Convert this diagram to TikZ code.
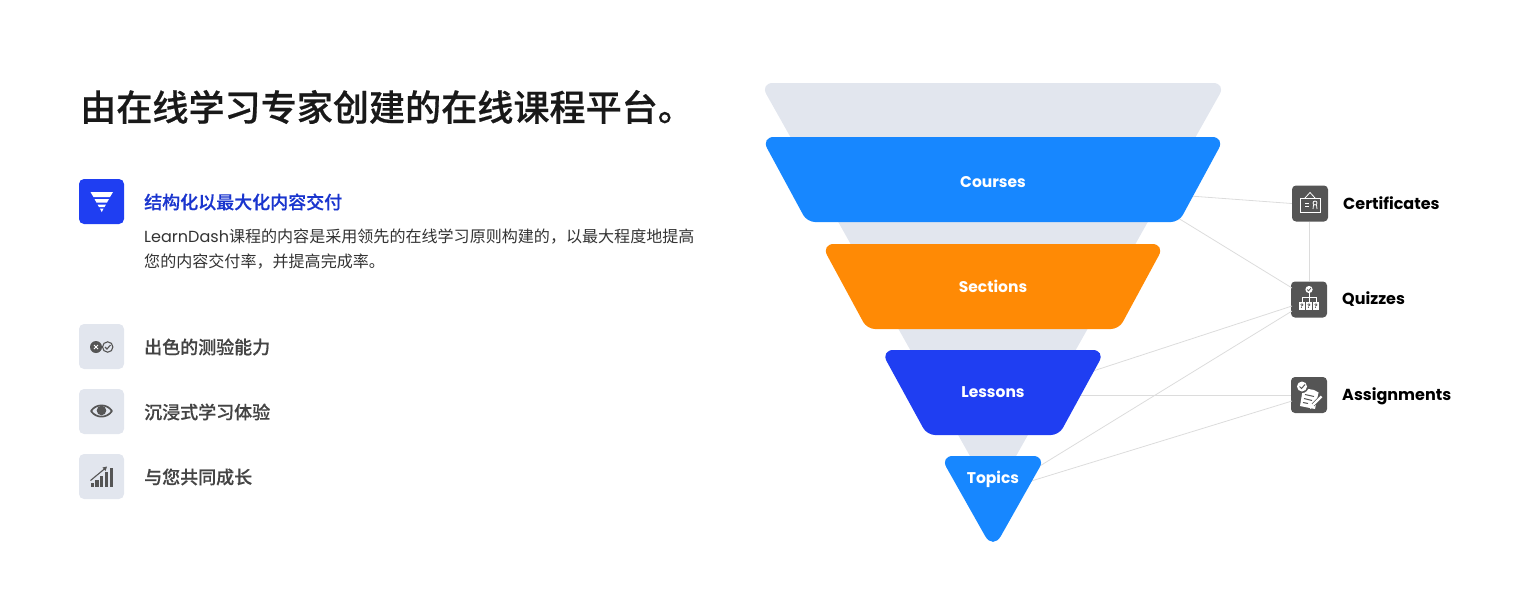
\documentclass[tikz,border=0pt]{standalone}
\usepackage{fontspec}
\setmainfont{Poppins}
\newfontfamily\cjk{Noto Sans CJK SC}
\newfontfamily\cjkmed[FakeBold=0.3]{Noto Sans CJK SC Medium}
\newfontfamily\cjktitle[FakeBold=0.5]{Noto Sans CJK SC Medium}
\newfontfamily\lat{Poppins}
\definecolor{gfun}{HTML}{E2E6EE}
\definecolor{skyb}{HTML}{1787FF}
\definecolor{orng}{HTML}{FF8A05}
\definecolor{royb}{HTML}{1F3EF2}
\definecolor{dark}{HTML}{555555}
\definecolor{ink}{HTML}{444444}
\definecolor{conn}{HTML}{DCDCDC}
\tikzset{
  funlabel/.style={text=white,font=\lat\fontsize{15.5}{15}\selectfont\bfseries,inner sep=0},
  sidelabel/.style={text=black,font=\lat\fontsize{16}{16}\selectfont\bfseries,anchor=west,inner sep=0},
  itemlabel/.style={text=ink,font=\cjkmed\fontsize{18}{18}\selectfont,anchor=west,inner sep=0},
  linkline/.style={draw=conn,line width=0.8pt},
  iconbox/.style={fill=dark,rounded corners=4pt,draw=none,minimum width=36pt,minimum height=36pt,inner sep=0},
  leftbox/.style={fill=gfun,rounded corners=5pt,draw=none,minimum width=45pt,minimum height=45pt,inner sep=0},
  wline/.style={draw=white,line width=0.8pt},
}
\begin{document}
\begin{tikzpicture}[x=1pt,y=-1pt]
\useasboundingbox (0,0) rectangle (1528,614);
% grey funnel
\fill[gfun] (993,83) [rounded corners=13pt] -- (760,83) -- (993,497) -- (1226,83) [sharp corners] -- cycle;
% connector ends on the funnel
\coordinate (cA) at (1190,196);
\coordinate (cB) at (1178,218);
\coordinate (lA) at (1090,372);
\coordinate (lB) at (1075,395);
\coordinate (tA) at (1030,472);
\coordinate (tB) at (1028,482);
% icon boxes
\node[iconbox] (cert) at (1310,203.5) {};
\node[iconbox] (quiz) at (1309,299.5) {};
\node[iconbox] (assign) at (1309,395) {};
\draw[linkline] (cA) -- (cert.west);
\draw[linkline] (cB) -- (1292,288);
\draw[linkline] (quiz.north) -- (quiz.north |- cert.south);
\draw[linkline] (lA) -- (1292,306);
\draw[linkline] (lB) -- (assign.west);
\draw[linkline] (tA) -- (1292,311);
\draw[linkline] (tB) -- (1292,401);
% funnel layers
\fill[skyb] (993,137) [rounded corners=13pt] -- (761,137) [rounded corners=8pt] -- (807,222) -- (1179,222) [rounded corners=13pt] -- (1225,137) [sharp corners] -- cycle;
\fill[orng] (993,244) [rounded corners=13pt] -- (821,244) [rounded corners=8pt] -- (867,329) -- (1119,329) [rounded corners=13pt] -- (1165,244) [sharp corners] -- cycle;
\fill[royb] (993,350) [rounded corners=13pt] -- (880.5,350) [rounded corners=8pt] -- (927,435) -- (1059,435) [rounded corners=13pt] -- (1105.5,350) [sharp corners] -- cycle;
\fill[skyb] (993,456) [rounded corners=13pt] -- (940,456) [rounded corners=16pt] -- (993,550) [rounded corners=13pt] -- (1046,456) [sharp corners] -- cycle;
\node[funlabel] (courses) at (993,182) {Courses};
\node[funlabel] (sections) at (993,286.4) {Sections};
\node[funlabel] (lessons) at (993,392) {Lessons};
\node[funlabel] (topics) at (993,479.5) {Topics};
% side labels
\node[sidelabel] (certL) at (1343,203) {Certificates};
\node[sidelabel] (quizL) at (1342,299.5) {Quizzes};
\node[sidelabel] (assignL) at (1342,396) {Assignments};
% left text
\node[anchor=west,inner sep=0,text=black!90,font=\cjktitle\fontsize{36.1}{37}\selectfont] (title) at (80,107) {由在线学习专家创建的在线课程平台。};
\node[anchor=west,inner sep=0,text=royb!85!black,font=\cjkmed\fontsize{18}{18}\selectfont] (sub) at (144,202) {结构化以最大化内容交付};
\node[anchor=west,inner sep=0,text=black!80,font=\cjk\fontsize{16.05}{16}\selectfont] (b1) at (144,237) {{\lat LearnDash}课程的内容是采用领先的在线学习原则构建的，以最大程度地提高};
\node[anchor=west,inner sep=0,text=black!80,font=\cjk\fontsize{16.05}{16}\selectfont] (b2) at (144,262) {您的内容交付率，并提高完成率。};
\node[itemlabel] (i1) at (144,347) {出色的测验能力};
\node[itemlabel] (i2) at (144,412) {沉浸式学习体验};
\node[itemlabel] (i3) at (144,477) {与您共同成长};
% left boxes
\node[leftbox,fill=royb] (b0box) at (101.5,201.5) {};
\node[leftbox] (b1box) at (101.5,346.5) {};
\node[leftbox] (b2box) at (101.5,411.5) {};
\node[leftbox] (b3box) at (101.5,476.5) {};
% funnel icon
\fill[white] (90.5,192) -- (113,192) -- (110,197) -- (93.5,197) -- cycle;
\fill[white] (94.5,199) -- (109,199) -- (107,202.5) -- (96.5,202.5) -- cycle;
\fill[white] (97.5,204.5) -- (106,204.5) -- (104.5,207) -- (99,207) -- cycle;
\fill[white] (100,208.5) -- (103.5,208.5) -- (101.75,212) -- cycle;
% cross / check icon
\fill[dark] (96,347) circle (6);
\draw[dark,line width=1.1pt] (107.7,347) circle (5.2);
\draw[white,line width=1pt] (94,345) -- (98,349) (98,345) -- (94,349);
\draw[dark,line width=1.1pt] (105,347) -- (107,349) -- (110.5,345);
% eye icon
\draw[dark,line width=1.7pt,line join=round] (91,411) .. controls (96,403.5) and (107,403.5) .. (112,411) .. controls (107,418.5) and (96,418.5) .. (91,411) -- cycle;
\fill[dark] (101.5,410.5) circle (4.8);
% signal icon
\fill[dark] (90.5,483) rectangle (94,487);
\fill[dark] (95,479.5) rectangle (98.5,487);
\fill[dark] (99.5,475.5) rectangle (103,487);
\fill[dark] (104.5,471.5) rectangle (108,487);
\fill[dark] (109.5,467.5) rectangle (113,487);
\draw[dark,line width=1.1pt] (90.5,480.5) -- (105,468.5);
\fill[dark] (107,466.5) -- (102.5,467.5) -- (105.5,471) -- cycle;
% certificate icon
\draw[wline] (1300.5,198) rectangle (1320.5,212.5);
\draw[wline] (1305,198) -- (1310,192.5) -- (1315,198);
\draw[wline] (1305,203.5) -- (1309,203.5) (1305,206.5) -- (1309,206.5);
\draw[wline] (1315,203) circle (2);
\draw[wline] (1313.5,205) -- (1313,209) (1316.5,205) -- (1317,209);
% quiz icon
\fill[white] (1309,289.5) circle (3.6);
\draw[dark,line width=0.8pt] (1307.3,289.5) -- (1308.6,290.8) -- (1310.8,288.2);
\draw[wline] (1309,293) -- (1309,303) (1302,301.5) -- (1302,297.5) -- (1316,297.5) -- (1316,301.5);
\foreach \bx/\bn in {1299/qa,1306/qb,1313/qc}{
  \fill[white] (\bx,302) rectangle +(6,8);
  \node[text=dark,inner sep=0,font=\lat\fontsize{6}{6}\selectfont\bfseries] (\bn) at (\bx+3,306) {?};
}
% assignment icon
\fill[white] (1303,388) -- (1314,390) -- (1318.5,392.5) -- (1315,409) -- (1300,406) -- cycle;
\fill[dark] (1302,386.5) circle (6.5);
\fill[white] (1302,386.5) circle (5);
\draw[dark,line width=1pt] (1299.5,386.5) -- (1301.5,388.5) -- (1305,384.5);
\draw[dark,line width=1pt] (1305,394.5) -- (1314,396.5) (1304,398.5) -- (1312,400.5) (1303,402.5) -- (1308,403.5);
\draw[dark,line width=3.6pt] (1313,405) -- (1322,396);
\draw[white,line width=2.4pt] (1313,405) -- (1321.5,396.5);
\fill[white] (1310,409) -- (1311.5,403.5) -- (1314.5,406.5) -- cycle;
\end{tikzpicture}
\end{document}
